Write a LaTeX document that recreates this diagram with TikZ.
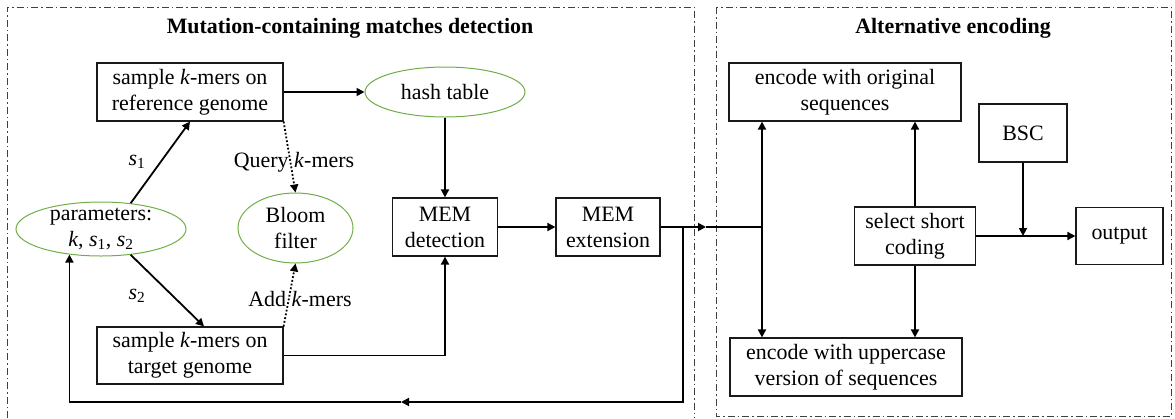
\documentclass[tikz,border=0pt]{standalone}
\usepackage{fontspec}
\setmainfont{Liberation Serif}
\usetikzlibrary{arrows.meta,shapes.geometric,calc}
\definecolor{elgreen}{RGB}{112,173,71}
\begin{document}
\begin{tikzpicture}[x=1bp,y=-1bp,
  txt/.style={font=\fontsize{22}{26}\selectfont, align=center, inner sep=0pt},
  title/.style={font=\fontsize{22}{26}\selectfont\bfseries, inner sep=0pt},
  box/.style={draw=black!90, line width=1.2bp, inner sep=0pt, align=center,
    font=\fontsize{22}{26}\selectfont},
  ell/.style={ellipse, draw=elgreen, line width=1bp, inner sep=0pt},
  ln/.style={line width=1.8bp},
  arr/.style={line width=1.8bp, -{Triangle[length=8bp,width=8bp]}},
  dotarr/.style={line width=1.8bp, dotted, -{Triangle[length=8bp,width=8bp]}},
  panel/.style={draw=black!75, line width=0.9bp, dash pattern=on 7bp off 3bp on 1.5bp off 3bp}]
\useasboundingbox (0,0) rectangle (1175,418);
% panels
\draw[panel] (7,418) -- (7,7) -- (694,7) -- (694,418);
\draw[panel] (716,7) rectangle (1171,416);
\node[title] (t1) at (350,28) {Mutation-containing matches detection};
\node[title] (t2) at (953,28) {Alternative encoding};
% left panel nodes
\node[box, minimum width=186bp, minimum height=58bp] (ref) at (190,92) {sample \textit{k}-mers on\\reference genome};
\node[box, minimum width=186bp, minimum height=57bp] (tgt) at (190,355.5) {sample \textit{k}-mers on\\target genome};
\node[box, minimum width=105bp, minimum height=58bp] (memd) at (445,227) {MEM\\detection};
\node[box, minimum width=104bp, minimum height=58bp] (meme) at (608,227) {MEM\\extension};
\node[ell, minimum width=170bp, minimum height=54bp] (par) at (101,229) {};
\node[txt] (part) at (par) {parameters:\\\textit{k}, \textit{s}\textsubscript{1}, \textit{s}\textsubscript{2}};
\node[ell, minimum width=160bp, minimum height=50bp] (hash) at (445,92) {};
\node[txt] (hasht) at (hash) {hash table};
\node[ell, minimum width=115bp, minimum height=70bp] (bloom) at (295.5,228) {};
\node[txt] (bloomt) at (bloom) {Bloom\\filter};
% labels
\node[txt] (s1) at (137,162) {\textit{s}\textsubscript{1}};
\node[txt] (s2) at (137,296) {\textit{s}\textsubscript{2}};
\node[txt] (ql) at (294,162) {Query \textit{k}-mers};
\node[txt] (al) at (300,299) {Add \textit{k}-mers};
% right panel nodes
\node[box, minimum width=232bp, minimum height=58bp] (enc1) at (845,92) {encode with original\\sequences};
\node[box, minimum width=232bp, minimum height=58bp] (enc2) at (846,367) {encode with uppercase\\version of sequences};
\node[box, minimum width=121bp, minimum height=58bp] (sel) at (915,236) {select short\\coding};
\node[box, minimum width=88bp, minimum height=58bp] (bsc) at (1023,133) {BSC};
\node[box, minimum width=87bp, minimum height=57bp] (out) at (1119.5,236) {output};
% coordinates
\coordinate (br) at (683,227);
\coordinate (tip) at (706,227);
\coordinate (junc) at (762,227);
\coordinate (fbm) at (401,402);
% connectors left
\draw[arr] (ref.east) -- (hash.west);
\draw[arr] (hash.south) -- (memd.north);
\draw[arr] (par.41) -- (ref.south);
\draw[arr] (par.-41) -- ($(tgt.north)+(14,0)$);
\draw[dotarr] (ref.south east) -- (bloom.north);
\draw[dotarr] (tgt.north east) -- (bloom.south);
\draw[arr] (tgt.east) -| (memd.south);
\draw[arr] (memd.east) -- (meme.west);
\draw[arr] (meme.east) -- (tip);
\draw[ln] (tip) -- (junc);
\draw[arr] (br) |- (fbm);
\draw[arr] (fbm) -| (par.219);
% connectors right
\draw[arr] (junc) -- (junc |- enc1.south);
\draw[arr] (junc) -- (junc |- enc2.north);
\draw[arr] (sel.north) -- (sel.north |- enc1.south);
\draw[arr] (sel.south) -- (sel.south |- enc2.north);
\draw[arr] (sel.east) -- (out.west);
\draw[arr] (bsc.south) -- (bsc.south |- sel.east);
\end{tikzpicture}
\end{document}
